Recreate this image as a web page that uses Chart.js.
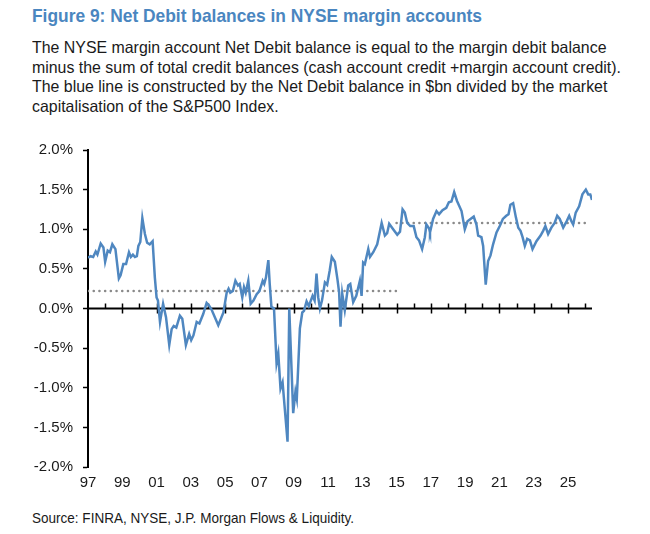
<!DOCTYPE html>
<html>
<head>
<meta charset="utf-8">
<script src="https://cdn.jsdelivr.net/npm/chart.js@4"></script>
<style>
  body { margin: 0; width: 650px; height: 534px; background: #fff; position: relative; overflow: hidden; font-family: "Liberation Sans", Arial, sans-serif; }
  .txt { position: absolute; left: 32px; white-space: nowrap; transform-origin: left top; }
  #title { top: 5px; font-size: 19px; font-weight: bold; color: #4a86c0; }
  #desc { top: 38px; font-size: 16.5px; line-height: 19.5px; color: #1a1a1a; }
  #source { top: 510px; font-size: 14.5px; color: #1a1a1a; }
  #wrap { position: absolute; left: 0; top: 131px; width: 650px; height: 369px; }
</style>
</head>
<body>
<div id="title" class="txt">Figure 9: Net Debit balances in NYSE margin accounts</div>
<div id="desc" class="txt">The NYSE margin account Net Debit balance is equal to the margin debit balance<br>minus the sum of total credit balances (cash account credit +margin account credit).<br>The blue line is constructed by the Net Debit balance in $bn divided by the market<br>capitalisation of the S&amp;P500 Index.</div>
<div id="source" class="txt">Source: FINRA, NYSE, J.P. Morgan Flows &amp; Liquidity.</div>
<div id="wrap"><canvas id="net_debit"></canvas></div>
<script>
(function () {
  // dates as decimal years, values in % of S&P500 market cap
  const dates = [
    1997.00, 1997.15, 1997.30, 1997.45, 1997.55, 1997.74, 1997.90, 1998.00, 1998.15, 1998.28,
    1998.42, 1998.60, 1998.80, 1998.90, 1999.06, 1999.22, 1999.39, 1999.50, 1999.62, 1999.74,
    1999.85, 1999.94, 2000.05, 2000.17, 2000.32, 2000.45, 2000.60, 2000.77, 2000.90, 2001.00,
    2001.08, 2001.20, 2001.38, 2001.55, 2001.74, 2001.88, 2002.00, 2002.15, 2002.36, 2002.50,
    2002.71, 2002.90, 2003.02, 2003.15, 2003.34, 2003.50, 2003.72, 2003.92, 2004.05, 2004.20,
    2004.60, 2004.90, 2005.09, 2005.20, 2005.30, 2005.45, 2005.60, 2005.75, 2005.85, 2006.00,
    2006.10, 2006.20, 2006.35, 2006.49, 2006.65, 2006.84, 2007.00, 2007.19, 2007.28, 2007.38,
    2007.52, 2007.60, 2007.70, 2007.85, 2008.00, 2008.10, 2008.23, 2008.35, 2008.64, 2008.74,
    2008.97, 2009.10, 2009.18, 2009.36, 2009.50, 2009.60, 2009.75, 2009.88, 2010.10, 2010.22,
    2010.33, 2010.43, 2010.53, 2010.65, 2010.82, 2010.95, 2011.10, 2011.22, 2011.40, 2011.55,
    2011.65, 2011.73, 2011.83, 2011.98, 2012.18, 2012.30, 2012.47, 2012.65, 2012.86, 2012.96,
    2013.05, 2013.15, 2013.35, 2013.45, 2013.64, 2013.87, 2014.13, 2014.32, 2014.45, 2014.57,
    2014.80, 2015.04, 2015.20, 2015.35, 2015.48, 2015.62, 2015.80, 2016.00, 2016.16, 2016.31,
    2016.49, 2016.65, 2016.74, 2016.90, 2016.95, 2017.13, 2017.33, 2017.48, 2017.68, 2017.90,
    2018.05, 2018.20, 2018.36, 2018.52, 2018.79, 2018.98, 2019.14, 2019.37, 2019.50, 2019.66,
    2019.76, 2019.95, 2020.05, 2020.20, 2020.34, 2020.48, 2020.63, 2020.83, 2021.02, 2021.20,
    2021.40, 2021.53, 2021.64, 2021.80, 2021.96, 2022.10, 2022.23, 2022.35, 2022.48, 2022.62,
    2022.78, 2022.93, 2023.16, 2023.40, 2023.55, 2023.68, 2023.84, 2024.03, 2024.22, 2024.37,
    2024.52, 2024.72, 2024.92, 2025.07, 2025.20, 2025.30, 2025.45, 2025.65, 2025.84, 2026.04,
    2026.18, 2026.30, 2026.40
  ];
  const netDebit = [
    0.64, 0.66, 0.65, 0.72, 0.68, 0.82, 0.77, 0.59, 0.73, 0.71,
    0.81, 0.75, 0.38, 0.42, 0.56, 0.56, 0.71, 0.65, 0.68, 0.65,
    0.66, 0.79, 0.84, 1.14, 0.94, 0.83, 0.81, 0.85, 0.39, 0.14,
    0.10, -0.17, 0.06, -0.11, -0.46, -0.26, -0.22, -0.24, -0.09, -0.13,
    -0.46, -0.32, -0.40, -0.34, -0.17, -0.19, -0.07, 0.07, 0.04, -0.01,
    -0.21, -0.05, 0.20, 0.25, 0.20, 0.22, 0.35, 0.29, 0.31, 0.14,
    0.27, 0.20, 0.35, 0.06, 0.10, 0.18, 0.22, 0.35, 0.31, 0.39,
    0.61, 0.31, 0.02, 0.00, -0.69, -0.57, -1.01, -0.93, -1.68, 0.00,
    -1.32, -1.05, -1.14, -0.25, -0.05, -0.03, 0.09, 0.03, 0.16, 0.10,
    0.44, 0.14, 0.00, 0.10, 0.33, 0.30, 0.48, 0.65, 0.59, 0.37,
    0.20, -0.23, 0.19, -0.02, 0.29, 0.31, 0.08, 0.16, 0.35, 0.16,
    0.58, 0.56, 0.75, 0.65, 0.71, 0.81, 1.08, 0.92, 0.95, 1.07,
    1.00, 0.93, 0.97, 1.25, 1.21, 1.08, 1.04, 1.04, 0.90, 0.86,
    0.75, 0.90, 1.06, 1.01, 0.96, 1.13, 1.23, 1.19, 1.24, 1.27,
    1.34, 1.35, 1.47, 1.36, 1.23, 1.00, 1.10, 1.14, 1.16, 1.06,
    0.92, 0.90, 0.79, 0.30, 0.60, 0.67, 0.81, 0.96, 1.04, 1.13,
    1.17, 1.19, 1.31, 1.33, 1.15, 1.02, 0.98, 0.90, 0.79, 0.88,
    0.86, 0.75, 0.85, 0.92, 0.98, 1.04, 0.94, 1.02, 1.08, 1.17,
    1.13, 1.02, 1.10, 1.17, 1.10, 1.06, 1.21, 1.29, 1.44, 1.50,
    1.44, 1.44, 1.37
  ];
  // period averages (dotted lines)
  const avgEarlyDates = [1997.0, 2015.0];
  const avgEarly = [0.22, 0.22];
  const avgLateDates = [2015.0, 2026.3];
  const avgLate = [1.08, 1.08];
  const yTicks = [-2.0, -1.5, -1.0, -0.5, 0.0, 0.5, 1.0, 1.5, 2.0];

  const toPoints = (xs, ys) => xs.map((x, i) => ({ x: x, y: ys[i] }));

  // zero axis with year ticks, drawn through the library's scales
  const zeroAxis = {
    id: "zeroAxis",
    beforeDatasetsDraw(chart) {
      const ctx = chart.ctx;
      const x = chart.scales.x;
      const y0 = chart.scales.y.getPixelForValue(0);
      ctx.save();
      ctx.strokeStyle = "#000";
      ctx.lineWidth = 2;
      ctx.beginPath();
      ctx.moveTo(chart.chartArea.left, y0);
      ctx.lineTo(chart.chartArea.right, y0);
      ctx.stroke();
      ctx.lineWidth = 1.5;
      for (let yr = 1998; yr <= 2026; yr++) {
        const px = Math.round(x.getPixelForValue(yr)) + 0.5;
        const major = yr % 2 === 1;
        ctx.beginPath();
        ctx.moveTo(px, y0 - 5);
        ctx.lineTo(px, major ? y0 + 5 : y0);
        ctx.stroke();
      }
      ctx.restore();
    },
  };

  function netDebitChart() {
    const ctx = document.getElementById("net_debit").getContext("2d");
    new Chart(ctx, {
      type: "line",
      data: {
        datasets: [
          {
            label: "Net Debit",
            data: toPoints(dates, netDebit),
            borderColor: "#4f87c0",
            borderWidth: 2.5,
            pointRadius: 0,
            tension: 0,
          },
          {
            label: "Avg 97-15",
            data: toPoints(avgEarlyDates, avgEarly),
            borderColor: "#8a8a8a",
            borderWidth: 2.5,
            borderDash: [0.1, 5.6],
            borderCapStyle: "round",
            pointRadius: 0,
          },
          {
            label: "Avg 15-26",
            data: toPoints(avgLateDates, avgLate),
            borderColor: "#8a8a8a",
            borderWidth: 2.5,
            borderDash: [0.1, 5.6],
            borderCapStyle: "round",
            pointRadius: 0,
          },
        ],
      },
      options: {
        responsive: true,
        maintainAspectRatio: false,
        animation: false,
        layout: { padding: { top: 0, right: 58, bottom: 0, left: 0 } },
        plugins: { legend: { display: false }, tooltip: { enabled: false } },
        scales: {
          x: {
            type: "linear",
            min: 1997,
            max: 2026.4,
            grid: { display: false, drawTicks: false },
            border: { display: false },
            afterFit: (s) => { s.height = 33; },
            ticks: {
              stepSize: 1,
              autoSkip: false,
              maxRotation: 0,
              padding: 7,
              color: "#1a1a1a",
              font: { family: "'Liberation Sans', Arial", size: 15 },
              callback: (v) => (Number.isInteger(v) && v % 2 === 1 ? String(v % 100).padStart(2, "0") : ""),
            },
          },
          y: {
            min: -2,
            max: 2,
            afterFit: (s) => { s.width = 88; },
            afterBuildTicks: (s) => { s.ticks = yTicks.map((v) => ({ value: v })); },
            border: { color: "#000", width: 2 },
            grid: { drawOnChartArea: false, tickLength: 5, tickColor: "#000", tickWidth: 1.5 },
            ticks: {
              padding: 10,
              color: "#1a1a1a",
              font: { family: "'Liberation Sans', Arial", size: 15 },
              callback: (v) => v.toFixed(1) + "%",
            },
          },
        },
      },
      plugins: [zeroAxis],
    });
  }

  // squeeze the text blocks to the narrow face used in the original
  function fit(id, target) {
    const el = document.getElementById(id);
    const w = el.getBoundingClientRect().width;
    el.style.transform = "scaleX(" + (target / w) + ")";
  }
  fit("title", 450);
  fit("desc", 589);
  fit("source", 322);
  netDebitChart();
})();
</script>
</body>
</html>
